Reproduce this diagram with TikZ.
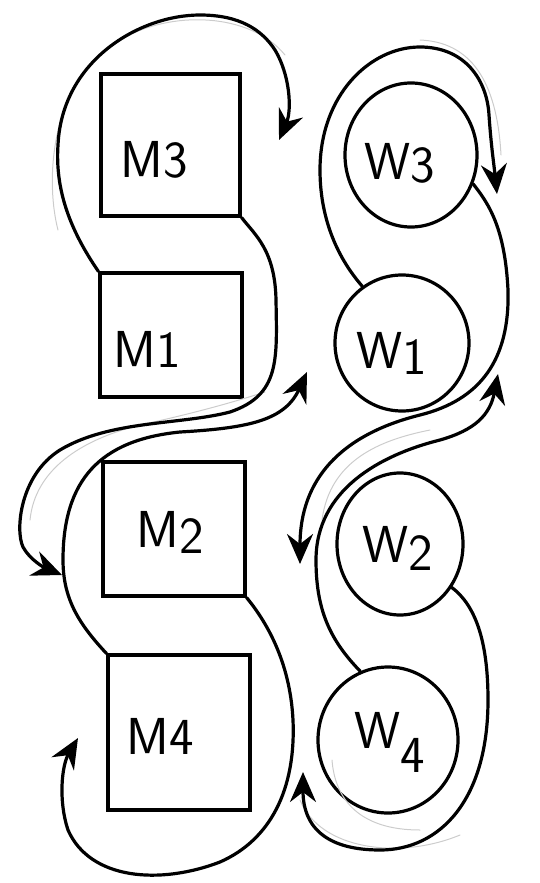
\documentclass[tikz,border=0pt]{standalone}
\usepackage{fontspec}
\usetikzlibrary{shapes.geometric,arrows.meta}
\begin{document}
\begin{tikzpicture}[x=1pt,y=-1pt,
  box/.style={draw,rectangle,line width=3.2pt,inner sep=0pt},
  wom/.style={draw,ellipse,line width=3.2pt,inner sep=0pt},
  lab/.style={font=\fontsize{52}{52}\selectfont\sffamily,inner sep=0pt},
  conn/.style={line width=3.2pt,line cap=round,-{Stealth[length=30pt,width=26pt,inset=10pt]}},
  ghost/.style={gray!40,line width=1pt,line cap=round}]
\useasboundingbox (0,0) rectangle (539,883);
% boxes
\node[box,minimum width=139pt,minimum height=142pt] (M3) at (170.5,145) {};
\node[box,minimum width=142pt,minimum height=124pt] (M1) at (171,335) {};
\node[box,minimum width=142pt,minimum height=134pt] (M2) at (174,529) {};
\node[box,minimum width=142pt,minimum height=155pt] (M4) at (179,732.5) {};
% circles
\node[wom,minimum width=132pt,minimum height=144pt] (W3) at (411,155) {};
\node[wom,minimum width=134pt,minimum height=136pt] (W1) at (402,343) {};
\node[wom,minimum width=126pt,minimum height=142pt] (W2) at (400,544) {};
\node[wom,minimum width=140pt,minimum height=146pt] (W4) at (388,740) {};
% labels
\node[lab] (tM3) at (154,160) {M3};
\node[lab] (tM1) at (147,349) {M1};
\node[lab] (tM2) at (170,532) {M\raisebox{-6pt}{2}};
\node[lab] (tM4) at (160,736) {M4};
\node[lab] (tW3) at (400,163) {W\raisebox{-3pt}{3}};
\node[lab] (tW1) at (392,353) {W\raisebox{-6pt}{1}};
\node[lab] (tW2) at (398,548) {W\raisebox{-8pt}{2}};
\node[lab] (tW4) at (390,742) {W\raisebox{-24pt}{4}};
% free ends
\coordinate (a1) at (279,140);
\coordinate (b1) at (62,575);
\coordinate (c1) at (307,372);
\coordinate (d1) at (78,738);
\coordinate (e1) at (497,194);
\coordinate (f1) at (300,564);
\coordinate (g1) at (498,374);
\coordinate (h1) at (303,772);
% faint second strokes
\draw[ghost] (58,230) .. controls (45,180) and (50,80) .. (120,40)
  .. controls (170,10) and (250,12) .. (285,55);
\draw[ghost] (30,520) .. controls (35,470) and (80,440) .. (140,425)
  .. controls (200,412) and (240,400) .. (265,392);
\draw[ghost] (420,40) .. controls (470,42) and (497,80) .. (501,155);
\draw[ghost] (430,430) .. controls (380,440) and (330,460) .. (322,520);
\draw[ghost] (332,760) .. controls (335,800) and (360,830) .. (420,830);
\draw[ghost] (300,800) .. controls (320,850) and (400,860) .. (460,835);
% connectors, men
\draw[conn] (M1.north west) .. controls (70,230) and (55,190) .. (58,145)
  .. controls (62,60) and (140,15) .. (200,15)
  .. controls (240,15) and (262,30) .. (275,50)
  .. controls (290,75) and (292,110) .. (a1);
\draw[conn] (M3.south east) .. controls (255,235) and (275,250) .. (276,300)
  .. controls (277,360) and (280,395) .. (230,412)
  .. controls (180,425) and (110,420) .. (60,450)
  .. controls (20,475) and (15,530) .. (23,547)
  .. controls (30,560) and (45,568) .. (b1);
\draw[conn] (M4.north west) .. controls (80,625) and (63,600) .. (63,560)
  .. controls (63,480) and (100,440) .. (180,432)
  .. controls (250,428) and (285,420) .. (c1);
\draw[conn] (M2.south east) .. controls (265,620) and (290,660) .. (293,720)
  .. controls (296,790) and (270,840) .. (220,862)
  .. controls (160,885) and (90,880) .. (68,830)
  .. controls (58,800) and (62,765) .. (d1);
% connectors, women
\draw[conn] (W1.125) .. controls (335,255) and (320,215) .. (320,170)
  .. controls (320,95) and (370,47) .. (420,47)
  .. controls (465,47) and (487,80) .. (489,115)
  .. controls (491,145) and (494,165) .. (e1);
\draw[conn] (W3.335) .. controls (490,205) and (505,230) .. (508,290)
  .. controls (510,360) and (480,400) .. (420,415)
  .. controls (340,435) and (300,480) .. (f1);
\draw[conn] (W4.112) .. controls (330,640) and (316,610) .. (316,560)
  .. controls (316,490) and (380,455) .. (440,440)
  .. controls (475,430) and (490,415) .. (g1);
\draw[conn] (W2.320) .. controls (475,605) and (488,640) .. (488,700)
  .. controls (488,800) and (440,850) .. (380,850)
  .. controls (330,850) and (303,830) .. (h1);
\end{tikzpicture}
\end{document}
